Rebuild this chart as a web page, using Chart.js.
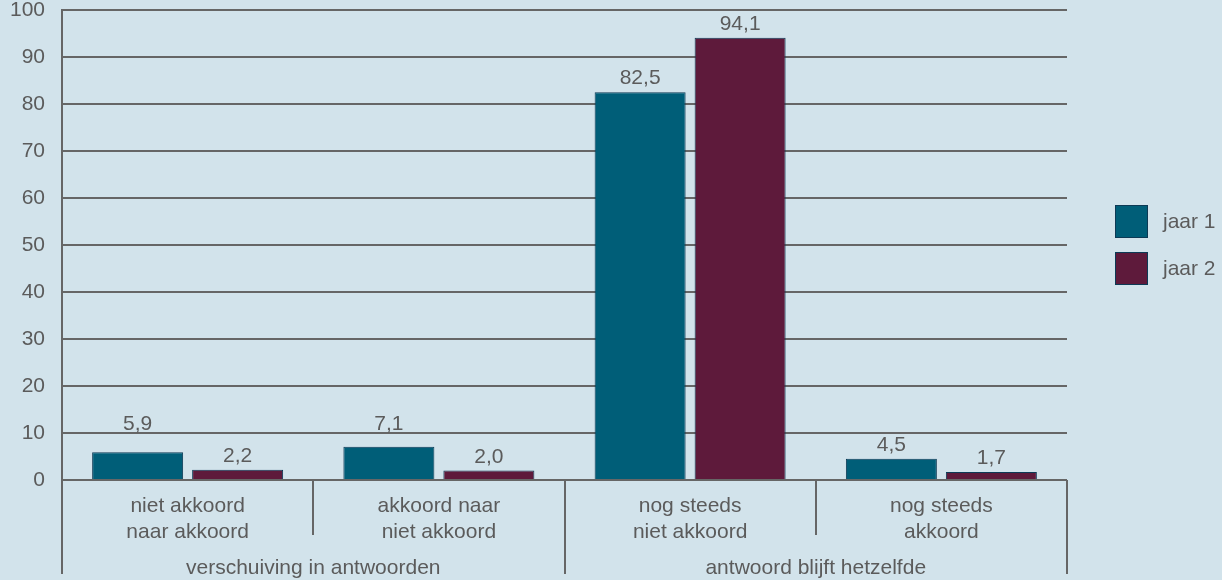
<!DOCTYPE html>
<html>
<head>
<meta charset="utf-8">
<title>jaar 1 / jaar 2</title>
<script src="https://cdn.jsdelivr.net/npm/chart.js@4"></script>
<style>
  html, body { margin: 0; padding: 0; background: #d2e3eb; }
  #wrap { width: 1222px; height: 580px; position: relative; }
</style>
</head>
<body>
<div id="wrap"><canvas id="chart"></canvas></div>
<script>
// data
const categories = [
  ["niet akkoord", "naar akkoord"],
  ["akkoord naar", "niet akkoord"],
  ["nog steeds", "niet akkoord"],
  ["nog steeds", "akkoord"]
];
const groupLabels = ["verschuiving in antwoorden", "antwoord blijft hetzelfde"];
const groupSizes = [2, 2];
const seriesNames = ["jaar 1", "jaar 2"];
const jaar1 = [5.9, 7.1, 82.5, 4.5];
const jaar2 = [2.2, 2.0, 94.1, 1.7];
const yMin = 0, yMax = 100, yStep = 10;

const textColor = "#5b5b5b";
const lineColor = "#666666";
const fillColors = ["#005e78", "#5e1a3b"];
const edgeColor = "#0d3a55";
const fontFamily = "'Liberation Sans', Arial, Helvetica, sans-serif";
const fontSize = 21;

const fmt = v => v.toLocaleString("nl-NL", { minimumFractionDigits: 1, maximumFractionDigits: 1 });

// value labels above bars, lifted over a gridline when they would cross it
const valueLabels = {
  id: "valueLabels",
  afterDatasetsDraw(chart) {
    const { ctx } = chart;
    const y = chart.scales.y;
    const gridYs = y.ticks.map(t => y.getPixelForValue(t.value));
    ctx.save();
    ctx.font = fontSize + "px " + fontFamily;
    ctx.fillStyle = textColor;
    ctx.textAlign = "center";
    ctx.textBaseline = "alphabetic";
    chart.data.datasets.forEach((ds, di) => {
      chart.getDatasetMeta(di).data.forEach((bar, i) => {
        let base = bar.y - 8;
        const top = base - 15;
        const hit = gridYs.find(g => g > top && g < base);
        if (hit !== undefined) base = hit - 3;
        ctx.fillText(fmt(ds.data[i]), bar.x, base);
      });
    });
    ctx.restore();
  }
};

// category separators, group labels and legend
const axisExtras = {
  id: "axisExtras",
  afterDraw(chart) {
    const { ctx, chartArea } = chart;
    const x = chart.scales.x;
    const n = categories.length;
    const w = (chartArea.right - chartArea.left) / n;
    const bottom = chartArea.bottom;

    ctx.save();
    ctx.strokeStyle = lineColor;
    ctx.lineWidth = 2;

    // boundaries that start a group run down to the group row
    const groupEdges = [0];
    groupSizes.reduce((acc, s) => { groupEdges.push(acc + s); return acc + s; }, 0);
    for (let k = 0; k <= n; k++) {
      const px = Math.round(x.getPixelForValue(Math.min(k, n - 1)) + (k === n ? w / 2 : -w / 2));
      const len = groupEdges.includes(k) ? 94 : 55;
      ctx.beginPath();
      ctx.moveTo(px, bottom);
      ctx.lineTo(px, bottom + len);
      ctx.stroke();
    }

    ctx.font = fontSize + "px " + fontFamily;
    ctx.fillStyle = textColor;
    ctx.textAlign = "center";
    ctx.textBaseline = "middle";
    let start = 0;
    groupLabels.forEach((label, g) => {
      const l = x.getPixelForValue(start) - w / 2;
      const r = x.getPixelForValue(start + groupSizes[g] - 1) + w / 2;
      ctx.fillText(label, (l + r) / 2, bottom + 88);
      start += groupSizes[g];
    });

    // legend
    const cy = (chartArea.top + chartArea.bottom) / 2;
    const boxX = chartArea.right + 48;
    ctx.textAlign = "left";
    seriesNames.forEach((name, i) => {
      const by = cy - 40 + i * 47;
      ctx.fillStyle = fillColors[i];
      ctx.fillRect(boxX, by, 33, 33);
      ctx.strokeStyle = edgeColor;
      ctx.lineWidth = 1;
      ctx.strokeRect(boxX + 0.5, by + 0.5, 32, 32);
      ctx.fillStyle = textColor;
      ctx.fillText(name, boxX + 48, by + 17);
    });
    ctx.restore();
  }
};

new Chart(document.getElementById("chart"), {
  type: "bar",
  data: {
    labels: categories,
    datasets: [
      { label: seriesNames[0], data: jaar1, backgroundColor: fillColors[0], borderColor: edgeColor, borderWidth: 1 },
      { label: seriesNames[1], data: jaar2, backgroundColor: fillColors[1], borderColor: edgeColor, borderWidth: 1 }
    ]
  },
  options: {
    responsive: true,
    maintainAspectRatio: false,
    animation: false,
    datasets: { bar: { categoryPercentage: 0.796, barPercentage: 0.91 } },
    layout: { padding: { top: 10, right: 155, left: 0, bottom: 0 } },
    plugins: { legend: { display: false }, tooltip: { enabled: false } },
    scales: {
      x: {
        grid: { display: false },
        border: { display: false },
        ticks: {
          color: textColor,
          font: { family: fontFamily, size: fontSize, lineHeight: 1.2 },
          padding: 6,
          maxRotation: 0,
          autoSkip: false
        },
        afterFit(scale) {
          scale.height = 100;
          scale.paddingLeft = 0;
          scale.paddingRight = 0;
        }
      },
      y: {
        min: yMin,
        max: yMax,
        grid: { color: lineColor, lineWidth: 2, drawTicks: false },
        border: { display: true, color: lineColor, width: 2 },
        ticks: {
          stepSize: yStep,
          color: textColor,
          font: { family: fontFamily, size: fontSize, lineHeight: 1 },
          padding: 17
        },
        afterFit(scale) {
          scale.width = 62;
          scale.paddingTop = 0;
          scale.paddingBottom = 0;
        }
      }
    }
  },
  plugins: [valueLabels, axisExtras]
});
</script>
</body>
</html>
